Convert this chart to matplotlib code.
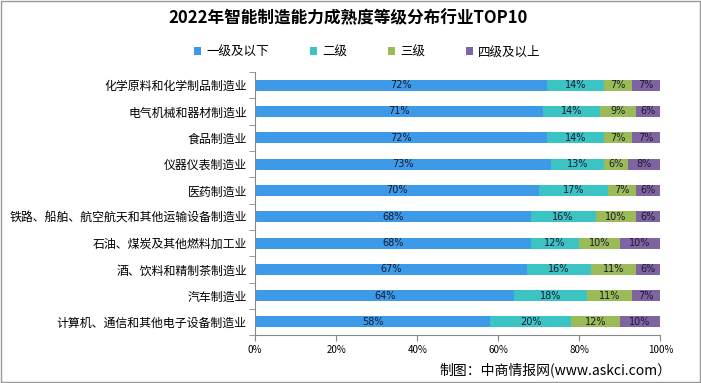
import matplotlib.pyplot as plt
import numpy as np

plt.rcParams['font.family'] = ['Noto Sans CJK SC', 'DejaVu Sans']

# ---DATA---
industries = ["化学原料和化学制品制造业",
              "电气机械和器材制造业",
              "食品制造业",
              "仪器仪表制造业",
              "医药制造业",
              "铁路、船舶、航空航天和其他运输设备制造业",
              "石油、煤炭及其他燃料加工业",
              "酒、饮料和精制茶制造业",
              "汽车制造业",
              "计算机、通信和其他电子设备制造业"]
level1 = [72, 71, 72, 73, 70, 68, 68, 67, 64, 58]
level2 = [14, 14, 14, 13, 17, 16, 12, 16, 18, 20]
level3 = [7, 9, 7, 6, 7, 10, 10, 11, 11, 12]
level4 = [7, 6, 7, 8, 6, 6, 10, 6, 7, 10]
series_names = ["一级及以下", "二级", "三级", "四级及以上"]
colors = ['#3d9ae8', '#3cc4c4', '#9bbb59', '#8064a2']

fig = plt.figure(figsize=(7.01, 3.83), dpi=100)
ax = fig.add_axes([0.364, 0.125, 0.578, 0.687])

y = np.arange(len(industries))
left = np.zeros(len(industries))
for vals, name, c in zip([level1, level2, level3, level4], series_names, colors):
    vals = np.array(vals)
    ax.barh(y, vals, left=left, height=0.42, color=c, label=name)
    for yi, l, v in zip(y, left, vals):
        ax.text(l + v / 2, yi, "%d%%" % v, ha='center', va='center',
                fontsize=7, color='#1a1a2e', family='DejaVu Sans')
    left = left + vals

ax.set_xlim(0, 100)
ax.set_ylim(9.5, -0.5)
ax.set_xticks(np.arange(0, 101, 20))
ax.set_xticklabels(["%d%%" % v for v in range(0, 101, 20)], fontsize=7)
ax.set_yticks(y)
ax.set_yticklabels(industries, fontsize=8.6)
ax.set_yticks(np.arange(-0.5, 10, 1), minor=True)
ax.tick_params(axis='y', which='major', length=0, pad=6)
ax.tick_params(axis='y', which='minor', length=4, color='#888888')
ax.tick_params(axis='x', length=4, color='#888888', pad=3)
for s in ['top', 'right']:
    ax.spines[s].set_visible(False)
for s in ['left', 'bottom']:
    ax.spines[s].set_color('#888888')

fig.text(0.497, 0.952, "2022年智能制造能力成熟度等级分布行业TOP10",
         ha='center', va='center', fontsize=12, fontweight='bold')
ax.legend(loc='center', bbox_to_anchor=(0.277, 1.076), ncol=4, frameon=False,
          fontsize=9, handlelength=0.55, handleheight=0.55, columnspacing=3.3,
          handletextpad=0.4)
fig.text(0.958, 0.035, "制图：中商情报网(www.askci.com）", ha='right', va='center',
         fontsize=10)

# grey frame round the picture
fig.patches.append(plt.Rectangle((0.001, 0.002), 0.997, 0.995, transform=fig.transFigure,
                                 fill=False, edgecolor='#999999', linewidth=1))

fig.savefig("out.png", dpi=100)
